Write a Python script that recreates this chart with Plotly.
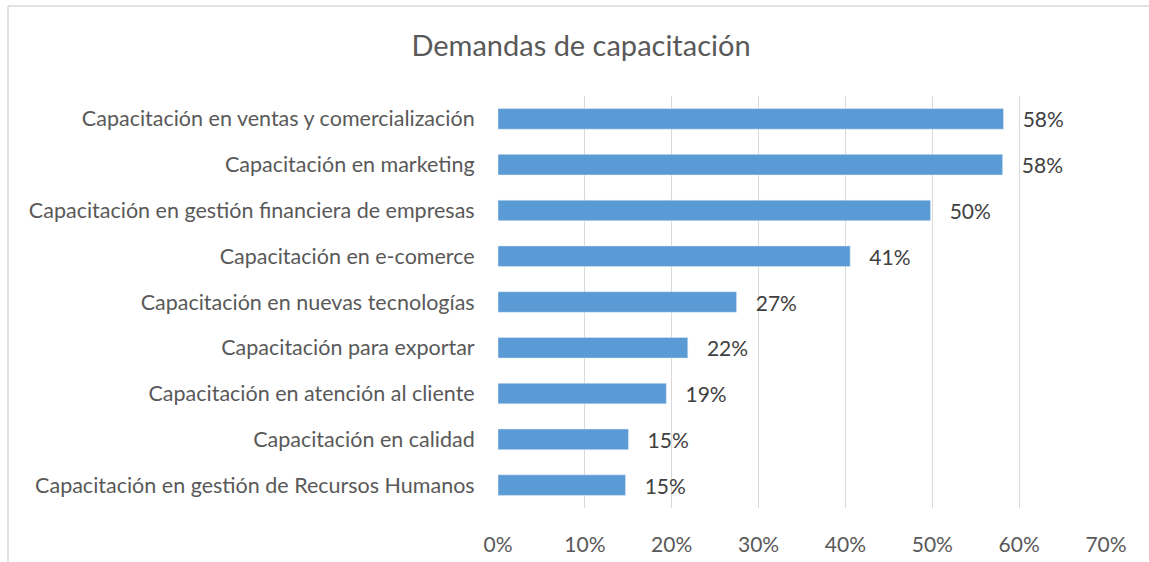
import plotly.graph_objects as go

categories = [
    "Capacitación en ventas y comercialización",
    "Capacitación en marketing",
    "Capacitación en gestión financiera de empresas",
    "Capacitación en e-comerce",
    "Capacitación en nuevas tecnologías",
    "Capacitación para exportar",
    "Capacitación en atención al cliente",
    "Capacitación en calidad",
    "Capacitación en gestión de Recursos Humanos",
]
values = [0.582, 0.581, 0.498, 0.4055, 0.2747, 0.2185, 0.1938, 0.1502, 0.1468]
x_ticks = [0, 0.1, 0.2, 0.3, 0.4, 0.5, 0.6, 0.7]
x_tick_labels = ["0%", "10%", "20%", "30%", "40%", "50%", "60%", "70%"]
title_text = "Demandas de capacitación"

W, H = 1149, 562
L, R, T, B = 498, 1106, 96, 508

FONT = "Lato"
fig = go.Figure(
    go.Bar(
        x=values,
        y=categories,
        orientation="h",
        marker=dict(color="#5B9BD5"),
        texttemplate="   %{x:.0%}",
        textposition="outside",
        constraintext="none",
        textfont=dict(family=FONT, size=21, color="#404040"),
        cliponaxis=False,
        hoverinfo="skip",
    )
)

fig.update_layout(
    width=W,
    height=H,
    margin=dict(l=L, r=W - R, t=T, b=H - B, pad=0, autoexpand=False),
    paper_bgcolor="white",
    plot_bgcolor="white",
    bargap=0.55,
    showlegend=False,
    title=dict(
        text=title_text,
        x=581 / W,
        xref="container",
        xanchor="center",
        y=1 - 46 / H,
        yanchor="middle",
        font=dict(family=FONT, size=29, color="#595959"),
    ),
    xaxis=dict(
        range=[0, 0.7],
        tickvals=x_ticks,
        ticktext=x_tick_labels,
        showgrid=True,
        gridcolor="#D9D9D9",
        gridwidth=1,
        zeroline=False,
        showline=False,
        ticks="outside",
        ticklen=18,
        tickcolor="rgba(0,0,0,0)",
        tickfont=dict(family=FONT, size=21, color="#595959"),
        automargin=False,
        fixedrange=True,
    ),
    yaxis=dict(
        autorange="reversed",
        showgrid=False,
        showline=False,
        ticks="outside",
        ticklen=18,
        tickcolor="rgba(0,0,0,0)",
        tickfont=dict(family=FONT, size=21.5, color="#595959"),
        automargin=False,
        fixedrange=True,
    ),
    shapes=[
        dict(
            type="line",
            xref="paper",
            yref="paper",
            x0=(8 - L) / (R - L),
            x1=(8 - L) / (R - L),
            y0=(B - 6) / (B - T),
            y1=(B - 570) / (B - T),
            line=dict(color="#D9D9D9", width=1.5),
        ),
        dict(
            type="line",
            xref="paper",
            yref="paper",
            x0=(8 - L) / (R - L),
            x1=(1160 - L) / (R - L),
            y0=(B - 6) / (B - T),
            y1=(B - 6) / (B - T),
            line=dict(color="#D9D9D9", width=1.5),
        ),
    ],
)

fig.write_html(
    "out.html",
    config={"displayModeBar": False, "staticPlot": True},
    post_script="document.body.style.margin='0';document.body.style.overflow='hidden';",
)
